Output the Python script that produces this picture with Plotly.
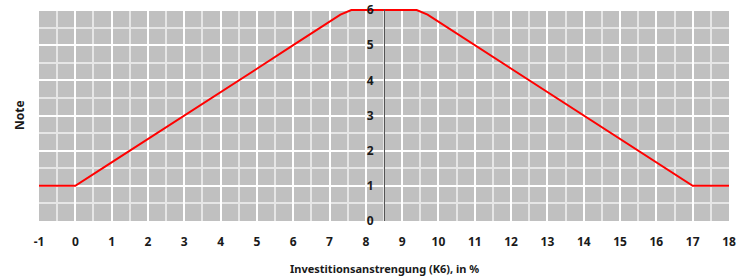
import plotly.graph_objects as go

# Data
x_values = [-1, 0, 1, 2, 3, 4, 5, 6, 7, 7.3, 7.6, 9.4, 9.7, 10, 11, 12, 13, 14, 15, 16, 17, 18]
note_values = [1, 1, 1.67, 2.33, 3, 3.67, 4.33, 5, 5.67, 5.87, 6, 6, 5.87, 5.67, 5, 4.33, 3.67, 3, 2.33, 1.67, 1, 1]
x_ticks = list(range(-1, 19))
y_ticks = list(range(0, 7))

FONT = "Noto Sans"

fig = go.Figure()
fig.add_trace(go.Scatter(x=x_values, y=note_values, mode="lines",
                         line=dict(color="#ff0000", width=2), showlegend=False,
                         hoverinfo="skip"))

fig.update_layout(
    width=737, height=277,
    margin=dict(l=39, r=8, t=9, b=56, autoexpand=False),
    paper_bgcolor="white",
    plot_bgcolor="#c0c0c0",
    font=dict(family=FONT, size=12, color="#1a1a1a"),
    xaxis=dict(
        range=[-1, 18], tickvals=x_ticks, ticktext=[str(v) for v in x_ticks],
        automargin=False,
        showgrid=True, gridcolor="white", gridwidth=2,
        minor=dict(dtick=0.5, showgrid=True, gridcolor="#e6e6e6", gridwidth=1.5),
        zeroline=False, showline=False, ticks="",
        tickfont=dict(family=FONT, size=12, weight="bold", color="#1a1a1a"),
        ticklabelstandoff=12,
    ),
    yaxis=dict(
        range=[0, 6.03], tickvals=y_ticks, ticktext=[str(v) for v in y_ticks],
        anchor="free", position=0.5, automargin=False,
        showgrid=True, gridcolor="white", gridwidth=2,
        minor=dict(dtick=0.5, showgrid=True, gridcolor="#e6e6e6", gridwidth=1.5),
        zeroline=False, showline=True, linecolor="#555555", linewidth=1, ticks="",
        tickfont=dict(family=FONT, size=12, weight="bold", color="#1a1a1a"),
        ticklabelstandoff=8,
    ),
    annotations=[
        dict(text="Note", xref="paper", yref="paper", x=-0.029, y=0.5,
             textangle=-90, showarrow=False, xanchor="center", yanchor="middle",
             font=dict(family=FONT, size=12, weight="bold", color="#1a1a1a")),
        dict(text="Investitionsanstrengung (K6), in %", xref="paper", yref="paper",
             x=0.5, y=-0.222, showarrow=False, xanchor="center", yanchor="middle",
             font=dict(family=FONT, size=11, weight="bold", color="#1a1a1a")),
    ],
)

fig.write_html("out.html", config={"displayModeBar": False},
               post_script="document.body.style.margin='0';")
